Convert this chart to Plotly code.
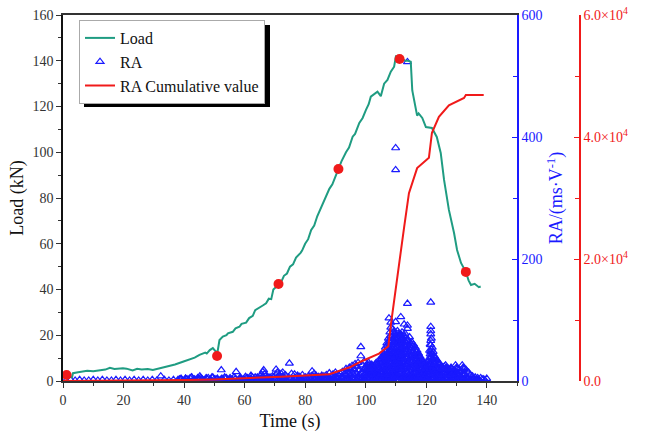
import plotly.graph_objects as go

# ---------------- data ----------------
load_time = [2.9, 3.3, 5, 6.6, 8, 10, 12.2, 14, 15.5, 17,
             19.8, 21, 23, 24.5, 26, 28, 29.7, 32, 34.1, 37,
             39.6, 42, 43.5, 45.1, 47, 47.5, 48.5, 49.5, 50.5, 51.1,
             51.5, 51.7, 52.8, 54, 54.5, 56.1, 57, 58.3, 59, 60.5,
             61.5, 62.7, 63.5, 65, 66, 67.1, 68, 68.8, 69.3, 69.5,
             70.3, 71.2, 72, 73, 74, 75, 76, 77, 78.5, 79,
             80, 81, 82, 83, 84, 85, 86.3, 87, 88, 89,
             90, 91, 92, 93.5, 94.5, 95.7, 96.5, 97.9, 99, 100.1,
             101, 101.7, 102.5, 103.9, 105, 106.1, 107.2, 108.3, 109.4, 110,
             111, 112, 113, 114, 114.9, 115.4, 116, 117, 117.5, 118.7,
             119.9, 121.9, 123.5, 124.8, 125.9, 127.5, 129.2, 130.2, 131.5, 133.1,
             134, 134.8, 136, 137.4, 138]
load_kn = [1.2, 3.4, 3.8, 4.1, 4.5, 4.3, 4.8, 5.0, 5.8, 5.3,
           5.6, 5.4, 4.6, 5.3, 5.0, 5.2, 4.8, 5.5, 6.3, 7.2,
           8.4, 9.5, 10.2, 11.4, 12.4, 12.0, 13.5, 14.4, 12.8, 13.0,
           17.5, 17.9, 19.4, 20.0, 20.8, 21.5, 23.0, 23.7, 25.0, 25.5,
           27.5, 28.5, 31, 32, 33, 34, 36, 35.8, 39, 40,
           41, 42.4, 43, 46, 47, 50, 51, 54, 56, 57,
           60, 62, 66, 68, 72, 75, 79, 81, 84, 86,
           89.5, 92.7, 96, 100, 102, 106.8, 108, 112.8, 115, 118.5,
           121, 124.3, 125, 126.5, 124.5, 130, 131.6, 135.2, 137.4, 142,
           142, 141, 140, 140, 139.6, 127, 122.8, 116, 117, 115,
           111, 110.6, 106.7, 99.7, 87.9, 74.8, 64.7, 57.3, 51.6, 47.7,
           44, 42, 42.5, 41, 41.3]
assert len(load_time) == len(load_kn)

mark_time = [1.2, 50.9, 71.2, 91, 111.2, 133.1]
mark_load = [2.6, 10.9, 42.4, 92.7, 140.8, 47.7]

cum_time = [0, 20, 40, 50, 60, 70, 72, 80, 88, 95, 98.5, 104.4, 107.5, 108.4, 109.4,
            110.5, 112.7, 114.3, 117, 120.9, 121.9, 124.2, 127.5, 132.5, 133.1, 139]
cum_val = [0, 50, 150, 250, 400, 600, 700, 900, 1100, 2300, 3200, 4500, 5700, 9500,
           13300, 17500, 25200, 30800, 34900, 36600, 40700, 43300, 45200, 46400,
           46900, 46900]

# RA: sparse early hits
ra_early_t = [1, 2.5, 4, 5.5, 7, 8.5, 10, 11.5, 13, 14.5, 16, 17.5, 19, 20.5, 22, 23.5,
              25, 26.5, 28, 29.5, 31, 32.3, 33.5, 35, 36.5]
ra_early_v = [1, 2, 1, 2, 1, 1, 2, 1, 2, 1, 1, 2, 1, 2, 1, 2,
              1, 2, 1, 2, 1, 8, 2, 1, 2]

# RA: dense baseline hits 38-140 s (whole seconds)
ra_base_t = [38, 39, 40, 41, 42, 43, 44, 45, 46, 47,
             48, 49, 50, 51, 52, 53, 54, 55, 56, 57,
             58, 59, 60, 61, 62, 63, 64, 65, 66, 67,
             68, 69, 70, 71, 72, 73, 74, 75, 76, 77,
             78, 79, 80, 81, 82, 83, 84, 85, 86, 87,
             88, 89, 90, 91, 92, 93, 94, 95, 96, 97,
             98, 99, 100, 101, 102, 103, 104, 105, 106, 107,
             108, 109, 110, 111, 112, 113, 114, 115, 116, 117,
             118, 119, 120, 121, 122, 123, 124, 125, 126, 127,
             128, 129, 130, 131, 132, 133, 134, 135, 136, 137,
             138, 139, 140]
ra_base_v = [2, 4, 1, 3, 5, 2, 1, 4, 3, 2,
             5, 1, 3, 4, 2, 1, 5, 3, 2, 4,
             1, 3, 2, 5, 4, 1, 2, 3, 5, 2,
             4, 1, 3, 2, 4, 5, 1, 3, 2, 4,
             3, 1, 5, 2, 4, 3, 1, 2, 5, 3,
             4, 2, 1, 3, 5, 2, 4, 1, 3, 2,
             4, 5, 1, 3, 2, 4, 3, 1, 5, 2,
             4, 3, 1, 2, 5, 3, 4, 2, 1, 3,
             5, 2, 4, 1, 3, 2, 4, 5, 1, 3,
             2, 4, 3, 1, 5, 2, 4, 3, 1, 2,
             5, 3, 4]
assert len(ra_base_t) == len(ra_base_v)

# RA: dense baseline hits 38.5-139.5 s (half seconds)
ra_half_t = [38.5, 39.5, 40.5, 41.5, 42.5, 43.5, 44.5, 45.5, 46.5, 47.5,
             48.5, 49.5, 50.5, 51.5, 52.5, 53.5, 54.5, 55.5, 56.5, 57.5,
             58.5, 59.5, 60.5, 61.5, 62.5, 63.5, 64.5, 65.5, 66.5, 67.5,
             68.5, 69.5, 70.5, 71.5, 72.5, 73.5, 74.5, 75.5, 76.5, 77.5,
             78.5, 79.5, 80.5, 81.5, 82.5, 83.5, 84.5, 85.5, 86.5, 87.5,
             88.5, 89.5, 90.5, 91.5, 92.5, 93.5, 94.5, 95.5, 96.5, 97.5,
             98.5, 99.5, 100.5, 101.5, 102.5, 103.5, 104.5, 105.5, 106.5, 107.5,
             108.5, 109.5, 110.5, 111.5, 112.5, 113.5, 114.5, 115.5, 116.5, 117.5,
             118.5, 119.5, 120.5, 121.5, 122.5, 123.5, 124.5, 125.5, 126.5, 127.5,
             128.5, 129.5, 130.5, 131.5, 132.5, 133.5, 134.5, 135.5, 136.5, 137.5,
             138.5, 139.5]
ra_half_v = [3, 1, 4, 2, 6, 3, 2, 5, 1, 4,
             2, 6, 3, 1, 4, 5, 2, 3, 6, 1,
             4, 2, 5, 3, 1, 6, 4, 2, 3, 5,
             2, 6, 4, 1, 3, 2, 6, 4, 5, 1,
             2, 4, 3, 6, 1, 5, 3, 4, 2, 6,
             3, 5, 4, 2, 6, 3, 1, 5, 4, 6,
             3, 2, 6, 4, 5, 3, 6, 2, 4, 6,
             3, 5, 2, 6, 4, 3, 5, 6, 2, 4,
             3, 6, 2, 5, 4, 3, 6, 2, 4, 5,
             3, 6, 2, 4, 3, 5, 2, 4, 3, 2,
             3, 1]
assert len(ra_half_t) == len(ra_half_v)

# RA: hits above the baseline (time -> RA values)
ra_mid = {
    40.5: [4], 42.5: [6], 44.5: [5], 45.2: [8], 47.3: [5], 49.2: [6], 52.3: [18],
    53.4: [6], 55.2: [5], 57.2: [15], 58.6: [6], 60.3: [7], 62.1: [9], 62.6: [6],
    64.2: [6], 65.5: [10], 66: [15, 8], 66.3: [18], 66.7: [12], 67.6: [7], 68.4: [6],
    69.2: [8], 70.4: [19, 10], 70.8: [14], 71.5: [10], 72.1: [12], 72.6: [14, 7],
    73.5: [10], 74.8: [29], 75.5: [12], 76.5: [11], 77.5: [9], 78.2: [7], 79.1: [10],
    80.2: [6], 81.1: [8], 82.3: [16, 9], 83: [12], 83.6: [9], 84.5: [7], 85.5: [9],
    86.2: [8], 87: [10, 6], 88: [13], 88.6: [8], 89.2: [11], 90: [14, 7], 91: [10],
    91.6: [12], 92.3: [15, 8], 93: [12], 93.5: [20, 10], 94: [16], 94.6: [22, 12],
    95: [18, 8], 95.5: [25, 14], 96: [20, 10], 96.5: [28, 16], 97: [24, 12],
    97.5: [30, 18, 8], 98: [18, 10], 98.4: [41, 56], 99: [26, 14], 99.5: [32, 20, 10],
    100: [22, 12], 100.5: [28, 16], 101: [30, 18, 8], 101.5: [24, 12], 102: [27, 15],
    102.5: [20, 10], 103: [25, 14], 103.5: [30, 18, 8], 104: [22, 12],
    104.5: [35, 20, 10], 105: [28, 16],
    105.5: [40, 30, 20, 12, 6], 106: [45, 34, 24, 15, 8], 106.5: [55, 42, 30, 20, 10],
    107: [62, 50, 38, 27, 16, 8], 107.5: [70, 56, 44, 32, 22, 12], 107.7: [103],
    108: [80, 66, 52, 40, 28, 16, 8], 108.3: [96, 88], 108.5: [72, 60, 48, 36, 24, 14],
    109: [85, 70, 56, 44, 32, 20, 10], 109.5: [78, 64, 50, 38, 26, 14],
    109.9: [97, 382, 346], 110: [75, 62, 48, 36, 24, 12],
    110.5: [82, 70, 56, 44, 32, 20, 10], 111: [76, 64, 52, 40, 28, 16],
    111.6: [105, 72, 60, 46, 34, 22, 10], 112: [80, 66, 54, 42, 30, 18],
    112.7: [93, 74, 60, 48, 36, 24, 12], 113.2: [70, 56, 44, 32, 20],
    113.8: [523, 127, 91, 86, 66, 52, 38, 24, 12], 114.5: [72, 58, 46, 34, 22, 10],
    115.2: [64, 54, 42, 30, 18], 115.8: [60, 48, 36, 24, 12], 116.4: [55, 44, 32, 20],
    117: [50, 40, 30, 18, 8], 117.5: [45, 34, 22, 12], 118: [40, 30, 20, 10],
    118.6: [35, 25, 14], 119.2: [30, 20, 10], 119.7: [28, 18, 8], 120.2: [25, 15],
    120.7: [32, 20, 10], 121.1: [50, 38, 26, 14],
    121.5: [129, 89, 82, 77, 66, 59, 48, 38, 28, 18], 122: [55, 45, 35, 25, 15],
    122.5: [42, 30, 20, 10], 123: [38, 28, 18], 123.5: [35, 25, 14], 124: [30, 20, 12],
    124.5: [28, 18, 8], 125: [25, 15], 125.6: [22, 14], 126.4: [26, 18, 10],
    127: [20, 12], 127.6: [18, 10], 128.2: [22, 12], 128.8: [16, 8], 129.3: [18, 10],
    129.7: [26, 15], 130.3: [20, 10], 131: [15, 8], 131.9: [26, 16], 132.5: [20, 10],
    133.2: [18, 8], 134: [14], 134.6: [10], 135.3: [8], 136.2: [6], 137: [5],
}

# RA: further hits inside the dense burst (time -> RA values)
ra_fill = {
    99.2: [18, 8], 100.2: [24, 14, 6], 100.8: [22, 10], 101.2: [26, 14], 101.8: [20, 8],
    102.2: [24, 12], 102.8: [22, 10], 103.2: [28, 16, 6], 103.8: [26, 14],
    104.2: [30, 18, 8], 104.8: [32, 20, 8], 105.2: [36, 24, 12],
    105.8: [35, 18, 5], 106.2: [40, 28, 12], 106.8: [48, 36, 24, 6], 107.2: [58, 44, 20],
    107.8: [64, 48, 34, 18, 6], 108.2: [74, 56, 42, 30, 20, 10],
    108.8: [66, 52, 38, 26, 6], 109.2: [80, 62, 46, 34, 22, 6],
    109.7: [70, 54, 40, 30, 18, 8], 110.2: [68, 56, 42, 28, 18, 6],
    110.8: [78, 62, 48, 36, 24, 6], 111.3: [70, 58, 44, 30, 20, 6],
    111.8: [76, 62, 50, 38, 26, 14], 112.3: [70, 56, 44, 32, 20, 6],
    113: [78, 64, 50, 38, 26, 8], 113.5: [62, 48, 36, 26, 14, 6],
    114: [68, 54, 40, 28, 16, 6], 114.8: [62, 50, 38, 26, 14, 6],
    115.5: [58, 46, 34, 22, 8], 116.1: [52, 40, 28, 16, 6], 116.8: [48, 36, 26, 14, 6],
    117.3: [42, 30, 18, 8], 117.8: [38, 26, 14, 6], 118.3: [34, 22, 12],
    118.9: [30, 18, 6], 119.5: [24, 14, 6], 120: [20, 10], 120.5: [26, 14, 6],
    121.3: [60, 44, 32, 20, 8], 121.7: [70, 52, 40, 28, 16, 6], 122.3: [48, 36, 24, 12],
    122.8: [40, 28, 16, 6], 123.3: [34, 22, 10], 123.8: [30, 18, 8], 124.3: [26, 14, 6],
    124.8: [24, 12], 125.3: [20, 10], 126: [24, 14, 6], 126.7: [22, 12], 127.3: [20, 10],
    128: [18, 8], 128.5: [20, 10], 129: [14, 6], 130: [22, 12], 130.7: [18, 8],
    131.4: [16, 8], 132.2: [22, 12], 133.5: [16, 6],
}

ra_t = list(ra_early_t) + list(ra_base_t) + list(ra_half_t)
ra_v = list(ra_early_v) + list(ra_base_v) + list(ra_half_v)
for table in (ra_mid, ra_fill):
    for t, vals in table.items():
        for v in vals:
            ra_t.append(t)
            ra_v.append(v)

# ---------------- figure ----------------
SERIF = "Liberation Serif"
TEAL = "#1f9c82"
RED = "#f01a1a"
BLUE = "#1a1aff"

W, H = 646, 432
ML, MT, MB = 63, 15, 51
PW = W - ML
PH = H - MT - MB
x_end = 517
red_x = 580

fig = go.Figure()
fig.add_trace(go.Scatter(x=load_time, y=load_kn, mode="lines", name="Load",
                         line=dict(color=TEAL, width=2), yaxis="y2"))
fig.add_trace(go.Scatter(x=ra_t, y=ra_v, mode="markers", name="RA", yaxis="y",
                         marker=dict(symbol="triangle-up-open", size=7, color=BLUE,
                                     line=dict(width=1.2, color=BLUE))))
fig.add_trace(go.Scatter(x=cum_time, y=cum_val, mode="lines", name="RA Cumulative value",
                         line=dict(color=RED, width=2), yaxis="y3"))
fig.add_trace(go.Scatter(x=mark_time, y=mark_load, mode="markers", showlegend=False,
                         marker=dict(color=RED, size=10), yaxis="y2"))


def px2paper_x(px):
    return (px - ML) / PW


def px2paper_y(py):
    return 1 - (py - MT) / PH


axis_font = dict(family=SERIF, size=14, color="#333333")

fig.update_layout(
    width=W, height=H,
    margin=dict(l=ML, r=0, t=MT, b=MB, autoexpand=False),
    paper_bgcolor="white", plot_bgcolor="white",
    font=dict(family=SERIF, size=14, color="#222222"),
    xaxis=dict(domain=[0, px2paper_x(x_end)], range=[0, 150], dtick=20, tick0=0,
               ticks="outside", ticklen=5, tickcolor="#333", showgrid=False,
               zeroline=False, showline=True, linecolor="#333", linewidth=1.5,
               mirror=True, tickfont=axis_font,
               minor=dict(ticks="outside", ticklen=3, dtick=10, tickcolor="#333"),
               title=dict(text="Time (s)", font=dict(family=SERIF, size=18, color="#111"),
                          standoff=10)),
    yaxis=dict(range=[0, 600], dtick=200, side="right", anchor="x",
               ticks="inside", ticklen=5, tickcolor=BLUE, showgrid=False, zeroline=False,
               showline=True, linecolor=BLUE, linewidth=1.5,
               tickfont=dict(family=SERIF, size=14, color=BLUE),
               minor=dict(ticks="inside", ticklen=4, dtick=100, tickcolor=BLUE),
               title=dict(text="RA/(ms·V<sup>-1</sup>)",
                          font=dict(family=SERIF, size=18, color=BLUE), standoff=8)),
    yaxis2=dict(range=[0, 160], dtick=20, side="left", overlaying="y", anchor="x",
                ticks="outside", ticklen=5, tickcolor="#333", showgrid=False,
                zeroline=False, showline=True, linecolor="#111", linewidth=1.5,
                tickfont=axis_font,
                minor=dict(ticks="outside", ticklen=3, dtick=10, tickcolor="#333"),
                title=dict(text="Load (kN)", font=dict(family=SERIF, size=18, color="#111"),
                           standoff=4)),
    yaxis3=dict(range=[0, 60000], side="right", overlaying="y", anchor="free",
                position=px2paper_x(red_x),
                tickvals=[0, 20000, 40000, 60000],
                ticktext=["0.0", "2.0×10<sup>4</sup>", "4.0×10<sup>4</sup>",
                          "6.0×10<sup>4</sup>"],
                ticks="inside", ticklen=5, tickcolor=RED, showgrid=False, zeroline=False,
                showline=True, linecolor=RED, linewidth=1.5,
                tickfont=dict(family=SERIF, size=14, color=RED),
                minor=dict(ticks="inside", ticklen=4, tickvals=[10000, 30000, 50000],
                           tickcolor=RED)),
    legend=dict(x=px2paper_x(79), y=px2paper_y(20), xanchor="left", yanchor="top",
                bgcolor="white", bordercolor="#aaaaaa", borderwidth=1,
                font=dict(family=SERIF, size=16, color="#111"),
                tracegroupgap=0, itemwidth=30),
    showlegend=True,
)

# legend drop shadow
fig.add_shape(type="rect", xref="paper", yref="paper",
              x0=px2paper_x(84), x1=px2paper_x(270), y0=px2paper_y(107), y1=px2paper_y(25),
              fillcolor="black", line=dict(width=0), layer="above")

fig.write_html("out.html")
